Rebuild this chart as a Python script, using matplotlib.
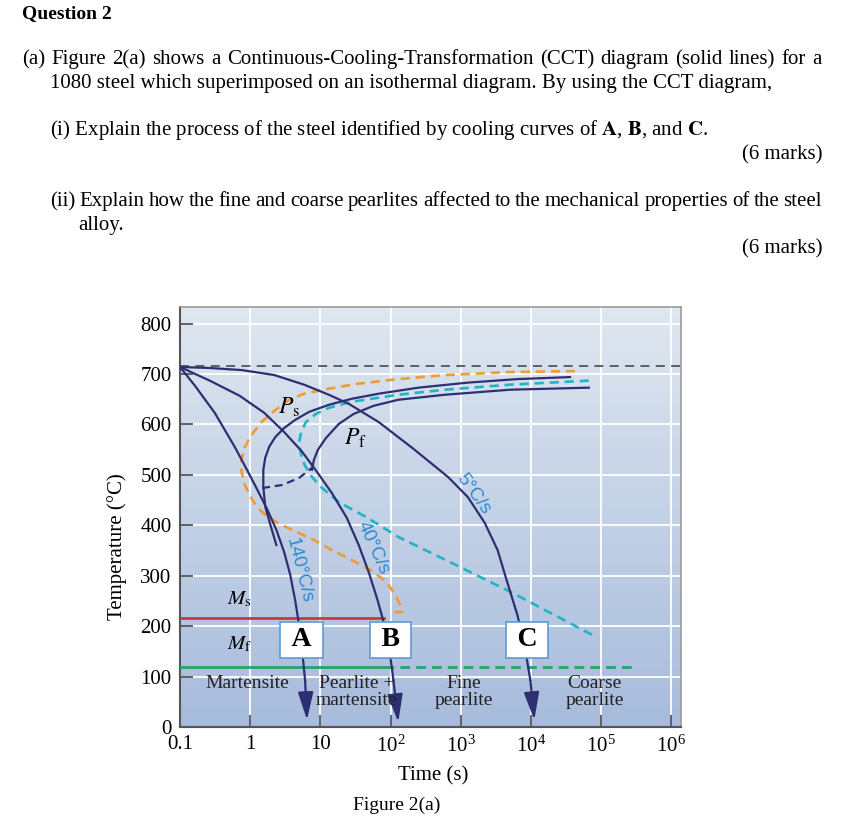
import numpy as np
import matplotlib
matplotlib.use("Agg")
import matplotlib.pyplot as plt
from matplotlib.colors import LinearSegmentedColormap

plt.rcParams["font.family"] = "serif"
plt.rcParams["font.serif"] = ["Liberation Serif", "DejaVu Serif"]
plt.rcParams["mathtext.fontset"] = "stix"

W, H = 851, 826

# ---- data: (time [s], temperature [C]) ----
eutectoid_T = 715
ms_T, mf_T = 216, 119
ms_end_t = 80
mf_dash_end_t = 2.9e5

# cooling curves (solid, navy) ending in an arrow
a_t = [0.1, 0.163, 0.313, 0.60, 0.917, 1.27, 1.76, 2.36, 3.05, 3.72, 4.37, 4.98, 5.50, 6.06, 6.46]
a_T = [714, 677, 623, 556, 508, 470, 431, 391, 347, 302, 252, 202, 153, 93, 14]
b_t = [0.1, 0.265, 0.706, 1.59, 3.05, 5.50, 8.95, 14.6, 23.8, 35.2, 48.7, 65.3, 82.0, 96.5, 110, 129]
b_T = [714, 687, 657, 623, 585, 546, 506, 464, 415, 361, 308, 252, 202, 153, 93, 10]
c_t = [0.1, 0.265, 0.753, 2.21, 5.86, 13.2, 25.4, 67.5, 211, 659, 1265, 2200, 3360,
       4500, 6440, 8090, 9840, 11200]
c_T = [714, 712, 708, 698, 679, 659, 641, 605, 552, 496, 456, 405, 351,
       292, 222, 163, 93, 14]

# CCT start / finish (solid) and the dashed link between them
ps_t = [2.36, 1.94, 1.64, 1.54, 1.54, 1.64, 1.87, 2.28, 3.05, 4.37, 6.90, 13.2, 28.0,
        67.5, 248, 1265, 6440, 36200]
ps_T = [361, 401, 437, 476, 510, 534, 556, 575, 593, 609, 625, 639, 651,
        661, 673, 683, 690, 694]
pf_t = [7.6, 8.11, 9.25, 12.0, 18.3, 29.9, 57.3, 129, 597, 5130, 67100]
pf_T = [510, 530, 550, 573, 601, 621, 637, 649, 659, 669, 673]
link_t = [1.49, 2.86, 4.98, 7.6]
link_T = [474, 480, 494, 514]

# isothermal start (orange) / finish (cyan), dashed
iso_s_t = [42700, 5130, 597, 129, 35.2, 13.2, 5.86, 3.60, 2.21, 1.45, 1.04, 0.83, 0.753,
           0.753, 0.83, 0.977, 1.27, 1.76, 2.59, 4.24, 7.6, 14.6, 28.0, 53.7, 87.5,
           117, 138, 147, 100]
iso_s_T = [706, 704, 698, 690, 681, 671, 661, 649, 627, 605, 579, 554, 530,
           506, 482, 460, 435, 417, 403, 389, 373, 351, 331, 310, 288,
           262, 242, 228, 228]
iso_f_t = [67100, 5130, 597, 129, 28.0, 13.2, 8.67, 6.25, 5.32, 4.98, 5.32, 6.06, 7.6,
           10.2, 18.3, 44.2, 129, 659, 5130, 74100]
iso_f_T = [687, 679, 669, 659, 645, 633, 621, 605, 585, 563, 540, 518, 496,
           476, 446, 417, 377, 329, 268, 183]

x_ticks = [0.1, 1, 10, 1e2, 1e3, 1e4, 1e5, 1e6]
x_labels = ["0.1", "1", "10", r"$\mathregular{10^2}$", r"$\mathregular{10^3}$",
            r"$\mathregular{10^4}$", r"$\mathregular{10^5}$", r"$\mathregular{10^6}$"]
y_ticks = [0, 100, 200, 300, 400, 500, 600, 700, 800]

box_labels = ["A", "B", "C"]
box_t = [5.4, 100, 8900]
box_T = 173

region_labels = ["Martensite", "Pearlite +\nmartensite", "Fine\npearlite", "Coarse\npearlite"]
region_t = [0.91, 33, 1120, 81000]
region_T = [87, 70, 70, 70]

rate_labels = ["140°C/s", "40°C/s", "5°C/s"]
rate_t = [5.0, 57, 1540]
rate_T = [310, 355, 462]
rate_rot = [-76, -66, -54]

navy = "#2e2f73"
orange = "#f29b30"
cyan = "#21b4c2"
red = "#c8383f"
green = "#23a46c"
blue_txt = "#2b8ad2"

fig = plt.figure(figsize=(W / 100, H / 100), dpi=100)
renderer = fig.canvas.get_renderer()


def fy(py):
    return 1 - py / H


def put_line(text, x0, py, size=15, x1=None, **kw):
    """Write one line of the question on a common baseline; spread to x1 if given."""
    base = fy(py + 5)
    if x1 is None:
        return fig.text(x0 / W, base, text, fontsize=size, va="baseline", **kw)
    words = text.split(" ")
    items = [fig.text(0, base, w, fontsize=size, va="baseline", **kw) for w in words]
    widths = [t.get_window_extent(renderer).width for t in items]
    gap = (x1 - x0 - sum(widths)) / (len(words) - 1)
    x = x0
    for t, w in zip(items, widths):
        t.set_x(x / W)
        x += w + gap


put_line("Question 2", 22, 13, size=14, fontweight="bold")
put_line("(a) Figure 2(a) shows a Continuous-Cooling-Transformation (CCT) diagram "
         "(solid lines) for a", 22, 59, x1=822)
put_line("1080 steel which superimposed on an isothermal diagram. By using the CCT diagram,",
         50, 83)
put_line(r"(i) Explain the process of the steel identified by cooling curves of "
         r"$\mathbf{A}$, $\mathbf{B}$, and $\mathbf{C}$.", 50, 130)
fig.text(822 / W, fy(159), "(6 marks)", fontsize=15, va="baseline", ha="right")
put_line("(ii) Explain how the fine and coarse pearlites affected to the mechanical "
         "properties of the steel", 50, 201, x1=822)
put_line("alloy.", 78, 225)
fig.text(822 / W, fy(253), "(6 marks)", fontsize=15, va="baseline", ha="right")

# ---- diagram ----
ax = fig.add_axes([180 / W, (H - 727) / H, 501 / W, 420 / H])
ax.set_xscale("log")

grad = np.linspace(1, 0, 256).reshape(-1, 1)
cmap = LinearSegmentedColormap.from_list("bg", ["#a7bbdc", "#dfe7f0"])
ax.imshow(grad, cmap=cmap, extent=[0, 1, 0, 1], transform=ax.transAxes,
          aspect="auto", zorder=0)

for yv in y_ticks[1:]:
    ax.axhline(yv, color="white", lw=1.3, zorder=1)
for xv in x_ticks[1:]:
    ax.axvline(xv, color="white", lw=1.3, zorder=1)

ax.axhline(eutectoid_T, color="#555555", lw=1.3, dashes=(5, 3.5), zorder=2)

ax.plot([0.1, ms_end_t], [ms_T, ms_T], color=red, lw=2, zorder=3)
ax.plot([0.1, ms_end_t], [mf_T, mf_T], color=green, lw=2, zorder=3)
ax.plot([ms_end_t, mf_dash_end_t], [mf_T, mf_T], color=green, lw=2,
        dashes=(3.5, 2.2), zorder=3)

ax.plot(iso_s_t, iso_s_T, color=orange, lw=1.9, dashes=(3.5, 2.2), zorder=3)
ax.plot(iso_f_t, iso_f_T, color=cyan, lw=1.9, dashes=(3.5, 2.2), zorder=3)

ax.plot(ps_t, ps_T, color=navy, lw=1.6, zorder=4)
ax.plot(pf_t, pf_T, color=navy, lw=1.6, zorder=4)
ax.plot(link_t, link_T, color=navy, lw=1.6, dashes=(3.5, 2.2), zorder=4)

for ct, cT in [(a_t, a_T), (b_t, b_T), (c_t, c_T)]:
    ax.plot(ct[:-1], cT[:-1], color=navy, lw=1.6, zorder=4)
    ax.annotate("", xy=(ct[-1], cT[-1]), xytext=(ct[-2], cT[-2]),
                arrowprops=dict(arrowstyle="-|>,head_length=1.3,head_width=0.36",
                                mutation_scale=13, color=navy, lw=1.6,
                                shrinkA=0, shrinkB=0), zorder=5)

ax.text(3.6, 633, r"$P_\mathrm{s}$", fontsize=17, ha="center", va="center", zorder=6)
ax.text(31.6, 573, r"$P_\mathrm{f}$", fontsize=17, ha="center", va="center", zorder=6)
ax.text(0.71, 252, r"$M_\mathrm{s}$", fontsize=15, ha="center", va="center", zorder=6)
ax.text(0.71, 163, r"$M_\mathrm{f}$", fontsize=15, ha="center", va="center", zorder=6)

for lab, t, T, r in zip(rate_labels, rate_t, rate_T, rate_rot):
    ax.text(t, T, lab, fontsize=13.5, color=blue_txt, rotation=r, family="Liberation Sans",
            rotation_mode="anchor", ha="center", va="center", zorder=6)

# letter boxes: thin spaces widen the box a little
for lab, t in zip(box_labels, box_t):
    ax.text(t, box_T, "\u2009" + lab + "\u2009", fontsize=20, fontweight="bold",
            family=["Liberation Serif", "DejaVu Serif"], ha="center", va="center",
            zorder=7, bbox=dict(boxstyle="square,pad=0.2", fc="white",
                                ec="#5b9bd5", lw=1.2))

for lab, t, T in zip(region_labels, region_t, region_T):
    ax.text(t, T, lab, fontsize=14, ha="center", va="center", linespacing=1.0,
            color="#222222", zorder=6)

ax.set_xlim(0.1, 10 ** 6.14)
ax.set_ylim(0, 833)
ax.set_xticks(x_ticks)
ax.set_xticklabels(x_labels)
ax.set_yticks(y_ticks)
ax.minorticks_off()
ax.tick_params(direction="in", length=9, width=1.3, color="#555555",
               labelsize=15, pad=6)
for side in ["left", "bottom"]:
    ax.spines[side].set_color("#555555")
    ax.spines[side].set_linewidth(1.5)
for side in ["right", "top"]:
    ax.spines[side].set_color("#999999")
    ax.spines[side].set_linewidth(1.2)

ax.set_ylabel("Temperature (°C)", fontsize=15)
ax.yaxis.set_label_coords(-0.105, 0.43)
ax.set_xlabel("Time (s)", fontsize=15)
ax.xaxis.set_label_coords(0.505, -0.093)

fig.text(397 / W, fy(805), "Figure 2(a)", fontsize=14, ha="center", va="center")

fig.savefig("out.png", dpi=100)
